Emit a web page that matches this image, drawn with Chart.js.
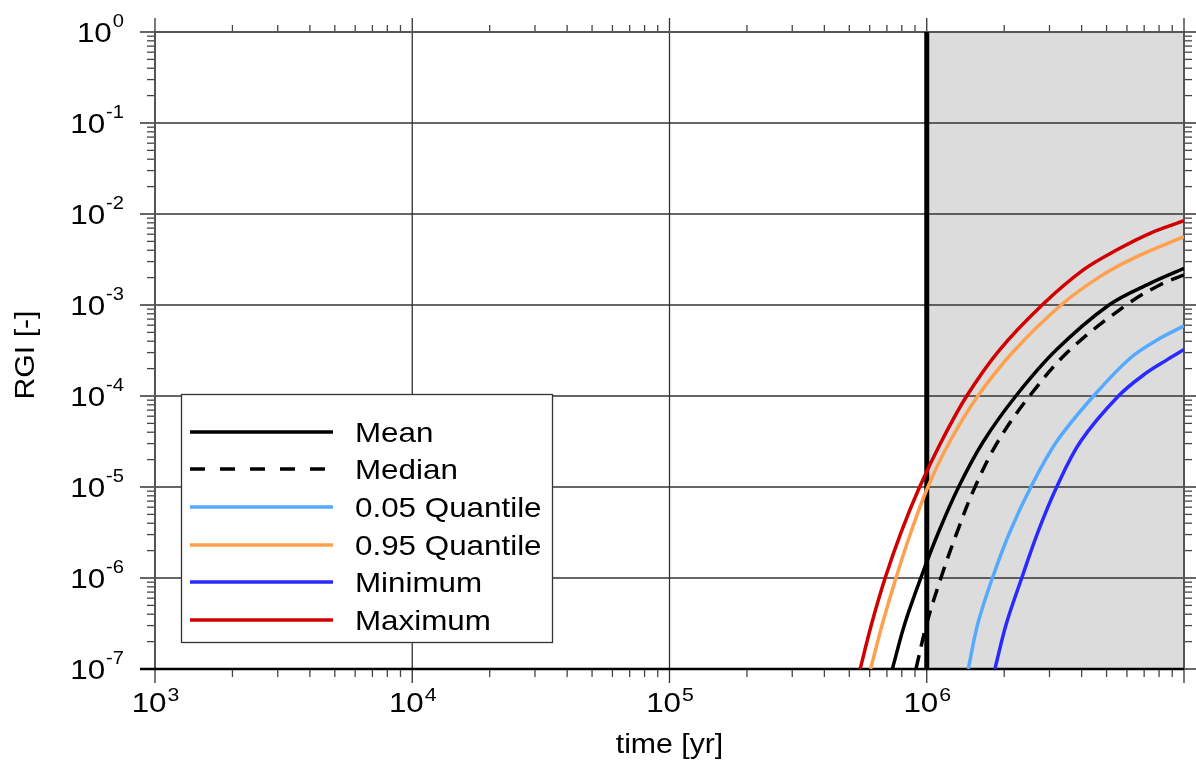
<!DOCTYPE html>
<html lang="en">
<head>
    <meta charset="UTF-8">
    <title>RGI</title>
    <style>
        body {margin: 0; background: #fff;}
        .chart-wrap {width: 1196px; height: 764px; position: relative;}
    </style>
</head>
<body>
    <div class="chart-wrap">
        <canvas id="myChart"></canvas>
    </div>

    <script src="https://cdn.jsdelivr.net/npm/chart.js@4.4.0/dist/chart.umd.min.js"></script>
    <script>

// axis decades (exponents)
const xDecades = [3, 4, 5, 6, 7];
const xLabelDecades = [3, 4, 5, 6]; // no label at 10^7 in the picture
const yDecades = [-7, -6, -5, -4, -3, -2, -1, 0];
const shadeFrom = 1e6; // grey part of the plot
const shadeTo = 1e7;

const seriesNames = ['Mean', 'Median', '0.05 Quantile', '0.95 Quantile', 'Minimum', 'Maximum'];
const seriesColors = ['#000000', '#000000', '#55aaff', '#ffa04f', '#2a2aff', '#d00000'];

// time [yr] / RGI [-]
const meanT = [7.35e5, 8.22e5, 9.48e5, 1.11e6, 1.33e6, 1.66e6, 2.22e6, 3.17e6, 5.11e6, 7.38e6, 1e7];
const meanV = [1e-7, 3.16e-7, 1e-6, 3.16e-6, 1e-5, 3.16e-5, 1e-4, 3.16e-4, 1e-3, 1.73e-3, 2.53e-3];

const medT = [9.08e5, 1.0e6, 1.135e6, 1.31e6, 1.54e6, 1.89e6, 2.51e6, 3.58e6, 5.96e6, 8.05e6, 1e7];
const medV = [1e-7, 3.16e-7, 1e-6, 3.16e-6, 1e-5, 3.16e-5, 1e-4, 3.16e-4, 1e-3, 1.66e-3, 2.14e-3];

const q05T = [1.45e6, 1.58e6, 1.80e6, 2.10e6, 2.54e6, 3.20e6, 4.45e6, 6.17e6, 7.83e6, 1e7];
const q05V = [1e-7, 3.16e-7, 1e-6, 3.16e-6, 1e-5, 3.16e-5, 1e-4, 2.6e-4, 4.1e-4, 5.9e-4];

const q95T = [6.05e5, 6.73e5, 7.59e5, 8.67e5, 1.01e6, 1.23e6, 1.58e6, 2.19e6, 3.33e6, 4.71e6, 6.35e6, 1e7];
const q95V = [1e-7, 3.16e-7, 1e-6, 3.16e-6, 1e-5, 3.16e-5, 1e-4, 3.16e-4, 1e-3, 2.05e-3, 3.26e-3, 5.64e-3];

const minT = [1.84e6, 2.04e6, 2.34e6, 2.70e6, 3.2e6, 3.96e6, 5.56e6, 7.11e6, 8.61e6, 1e7];
const minV = [1e-7, 3.16e-7, 1e-6, 3.16e-6, 1e-5, 3.16e-5, 1e-4, 1.78e-4, 2.51e-4, 3.24e-4];

const maxT = [5.51e5, 6.11e5, 6.89e5, 7.94e5, 9.38e5, 1.14e6, 1.43e6, 1.91e6, 2.81e6, 4.06e6, 5.47e6, 7.38e6, 1e7];
const maxV = [1e-7, 3.16e-7, 1e-6, 3.16e-6, 1e-5, 3.16e-5, 1e-4, 3.16e-4, 1e-3, 2.43e-3, 4.02e-3, 6.14e-3, 8.43e-3];

const allT = [meanT, medT, q05T, q95T, minT, maxT];
const allV = [meanV, medV, q05V, q95V, minV, maxV];

const FONT = '"Liberation Sans", Arial, sans-serif';
const STRETCH = 1.12; // text in the picture is a bit wide

// text helper, stretched horizontally
function drawText(ctx, str, x, y, size, align, baseline) {
    ctx.save();
    ctx.font = size + 'px ' + FONT;
    ctx.textBaseline = baseline || 'alphabetic';
    ctx.textAlign = 'left';
    const w = ctx.measureText(str).width * STRETCH;
    let x0 = x;
    if (align === 'center') x0 = x - w / 2;
    if (align === 'right') x0 = x - w;
    ctx.translate(x0, y);
    ctx.scale(STRETCH, 1);
    ctx.fillText(str, 0, 0);
    ctx.restore();
    return w;
}

function textWidth(ctx, str, size) {
    ctx.save();
    ctx.font = size + 'px ' + FONT;
    const w = ctx.measureText(str).width * STRETCH;
    ctx.restore();
    return w;
}

function seg(ctx, x1, y1, x2, y2) {
    ctx.beginPath();
    ctx.moveTo(x1, y1);
    ctx.lineTo(x2, y2);
    ctx.stroke();
}

// background, grid, ticks
const frame = {
    id: 'frame',
    beforeDatasetsDraw(chart) {
        const ctx = chart.ctx;
        const a = chart.chartArea;
        const x = chart.scales.x, y = chart.scales.y;
        ctx.save();

        const sx0 = x.getPixelForValue(shadeFrom);
        const sx1 = x.getPixelForValue(shadeTo);
        ctx.fillStyle = '#dcdcdc';
        ctx.fillRect(sx0, a.top, sx1 - sx0, a.bottom - a.top);

        // grid + major ticks
        ctx.strokeStyle = '#333';
        ctx.lineWidth = 1.3;
        xDecades.forEach(d => {
            const px = x.getPixelForValue(Math.pow(10, d));
            seg(ctx, px, a.top - 14, px, a.bottom + 14);
        });
        yDecades.forEach(d => {
            const py = y.getPixelForValue(Math.pow(10, d));
            seg(ctx, a.left - 15, py, a.right + 12, py);
        });

        // minor ticks
        ctx.strokeStyle = '#444';
        ctx.lineWidth = 1.3;
        for (let i = 0; i < xDecades.length - 1; i++) {
            for (let k = 2; k <= 9; k++) {
                const px = x.getPixelForValue(k * Math.pow(10, xDecades[i]));
                seg(ctx, px, a.bottom, px, a.bottom + 8);
                seg(ctx, px, a.top, px, a.top - 7);
            }
        }
        for (let i = 0; i < yDecades.length - 1; i++) {
            for (let k = 2; k <= 9; k++) {
                const py = y.getPixelForValue(k * Math.pow(10, yDecades[i]));
                seg(ctx, a.left - 8, py, a.left, py);
                seg(ctx, a.right, py, a.right + 8, py);
            }
        }

        // frame
        ctx.strokeStyle = '#555';
        ctx.lineWidth = 2;
        seg(ctx, a.left, a.top, a.right, a.top);
        seg(ctx, a.left, a.top, a.left, a.bottom);
        seg(ctx, a.right, a.top, a.right, a.bottom);
        ctx.strokeStyle = '#000';
        ctx.lineWidth = 2.5;
        seg(ctx, a.left - 15, a.bottom, a.right, a.bottom);

        // thick line at 1e6
        ctx.lineWidth = 5;
        seg(ctx, sx0, a.top, sx0, a.bottom);

        ctx.restore();
    },
    afterDraw(chart) {
        const ctx = chart.ctx;
        const a = chart.chartArea;
        const x = chart.scales.x, y = chart.scales.y;
        ctx.save();
        ctx.fillStyle = '#000';

        // y tick labels
        yDecades.forEach(d => {
            const py = y.getPixelForValue(Math.pow(10, d));
            const ew = textWidth(ctx, String(d), 18);
            drawText(ctx, String(d), 124 - ew, py - 5, 18, 'left');
            drawText(ctx, '10', 124 - ew - 1, py + 10, 28, 'right');
        });

        // x tick labels
        xLabelDecades.forEach(d => {
            const px = x.getPixelForValue(Math.pow(10, d));
            const bw = textWidth(ctx, '10', 28);
            const ew = textWidth(ctx, String(d), 19);
            const left = px - (bw + ew) / 2;
            drawText(ctx, '10', left, a.bottom + 43, 28, 'left');
            drawText(ctx, String(d), left + bw + 1, a.bottom + 32, 19, 'left');
        });

        // axis titles
        drawText(ctx, 'time [yr]', (a.left + a.right) / 2, 753, 27, 'center');
        ctx.save();
        ctx.translate(34, 355);
        ctx.rotate(-Math.PI / 2);
        drawText(ctx, 'RGI [-]', 0, 0, 27, 'center');
        ctx.restore();

        // legend box
        const lx = 181, ly = 394, lw = 371, lh = 248;
        ctx.fillStyle = '#fff';
        ctx.fillRect(lx, ly, lw, lh);
        ctx.strokeStyle = '#333';
        ctx.lineWidth = 1.3;
        ctx.strokeRect(lx + 0.5, ly + 0.5, lw, lh);
        const rowY = [432, 469, 507, 545, 582, 620];
        seriesNames.forEach((name, i) => {
            ctx.strokeStyle = seriesColors[i];
            ctx.lineWidth = 3.5;
            ctx.setLineDash(i === 1 ? [15, 15] : []);
            seg(ctx, 190, rowY[i], 333, rowY[i]);
            ctx.setLineDash([]);
            ctx.fillStyle = '#000';
            drawText(ctx, name, 355, rowY[i] + 10, 28, 'left');
        });

        ctx.restore();
    }
};

const datasets = seriesNames.map((name, i) => ({
    label: name,
    data: allT[i].map((t, j) => ({x: t, y: allV[i][j]})),
    borderColor: seriesColors[i],
    borderWidth: 3.5,
    borderDash: i === 1 ? [14, 9] : [],
    pointRadius: 0,
    tension: 0.35,
    fill: false
}));

const ctx = document.getElementById('myChart').getContext('2d');
const myChart = new Chart(ctx, {
    type: 'line',
    data: {datasets: datasets},
    plugins: [frame],
    options: {
        responsive: true,
        maintainAspectRatio: false,
        animation: false,
        layout: {padding: {top: 32, right: 12, left: 0, bottom: 0}},
        plugins: {
            legend: {display: false},
            tooltip: {enabled: false}
        },
        scales: {
            x: {
                type: 'logarithmic',
                min: 1e3,
                max: 1e7,
                ticks: {display: false},
                grid: {display: false},
                border: {display: false},
                afterFit(s) { s.height = 95; }
            },
            y: {
                type: 'logarithmic',
                min: 1e-7,
                max: 1,
                ticks: {display: false},
                grid: {display: false},
                border: {display: false},
                afterFit(s) { s.width = 155; }
            }
        }
    }
});
    </script>
</body>
</html>
